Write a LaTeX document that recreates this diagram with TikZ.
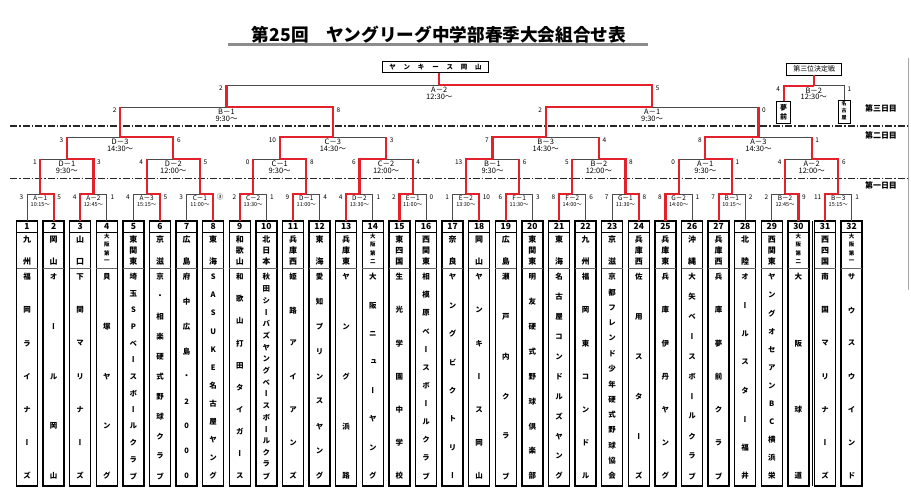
\documentclass[tikz,border=0pt]{standalone}
\usepackage{fontspec}
\setmainfont{Noto Sans CJK JP}
\newfontfamily\jpv[RawFeature=+vert]{Noto Sans CJK JP}
\usetikzlibrary{calc}
\definecolor{wred}{RGB}{228,32,42}
\definecolor{lgray}{RGB}{75,75,75}
\tikzset{
 win/.style={draw=wred,line width=2.2bp},
 lose/.style={draw=lgray,line width=0.8bp},
 tbox/.style={draw=black,line width=1.5bp,minimum width=21bp,minimum height=265bp,anchor=north,inner sep=0,outer sep=0},
 sc/.style={font=\fontsize{6.5}{7}\selectfont,inner sep=0},
 lab1/.style={font=\fontsize{6.5}{7}\selectfont,inner sep=0},
 tim1/.style={font=\fontsize{5.5}{6}\selectfont,inner sep=0},
 lab/.style={font=\fontsize{7.5}{8}\selectfont,inner sep=0},
 dayline/.style={draw=black!85,line width=1.1bp,dash pattern=on 7bp off 2bp on 1.5bp off 2bp},
 smallbox/.style={draw=black,line width=0.9bp,inner sep=0,outer sep=0},
}
\newcommand\preffont{\bfseries\fontsize{8}{8}\selectfont}
\newcommand\prefsmall{\bfseries\fontsize{5.5}{6}\selectfont}
\newcommand\namefont{\jpv\bfseries\fontsize{7.5}{8}\selectfont}
\newcommand\countlist[1]{\gdef\nch{0}\foreach \ch in {#1}{\pgfmathtruncatemacro\tmpn{\nch+1}\global\let\nch\tmpn}}
\newcommand\vstack[6]{%
  \countlist{#6}%
  \foreach \ch [count=\k] in {#6}{%
    \pgfmathsetmacro\yy{#3+(\k-1)*(#4-#3)/max(\nch-1,1)}%
    \node[font=#5,inner sep=0] (#1-\k) at (#2,\yy) {\ch};}%
}
\newcommand\team[3]{%
  \pgfmathsetmacro\tx{27+(#1-1)*26.6}%
  \node[tbox] (t#1) at (\tx,221) {};
  \draw[line width=0.6bp] ($(t#1.north west)+(0,11)$) -- ($(t#1.north east)+(0,11)$);
  \draw[line width=0.6bp,black!60] ($(t#1.north west)+(0,47)$) -- ($(t#1.north east)+(0,47)$);
  \node[font=\bfseries\fontsize{8.5}{9}\selectfont,inner sep=0] (n#1) at (\tx,226.8) {#1};
  \countlist{#2}%
  \ifnum\nch>3 \vstack{p#1}{\tx}{236.3}{261.5}{\prefsmall}{#2}\else\vstack{p#1}{\tx}{239.5}{261.5}{\preffont}{#2}\fi
  \vstack{c#1}{\tx}{277}{476}{\namefont}{#3}%
}
\newcommand\gm[9]{%
  \coordinate (#1) at (#4,#5);
  \if#6L\def\sa{win}\def\sb{lose}\else\def\sa{lose}\def\sb{win}\fi
  \draw[\sb] (#3) |- (#1);
  \draw[\sa] (#2) |- (#1);
  \ifnum#9=1 \draw[win] (#2) -- (#2 |- #1); \draw[win] (#3) -- (#3 |- #1);\fi
  \node[sc,anchor=east] (#1sl) at ($(#2 |- #1)+(-3.5,3.5)$) {#7};
  \node[sc,anchor=west] (#1sr) at ($(#3 |- #1)+(3.5,3.5)$) {#8};
}
\newcommand\glone[3]{\node[lab1] (#1l) at ($(#1)+(0,4)$) {#2}; \node[tim1] (#1t) at ($(#1)+(0,10.5)$) {#3};}
\newcommand\gla[3]{\node[lab] (#1l) at ($(#1)+(0,4.8)$) {#2}; \node[lab] (#1t) at ($(#1)+(0,11.5)$) {#3};}
\begin{document}
\begin{tikzpicture}[x=1bp,y=-1bp]
\fill[white] (0,0) rectangle (911,503);
\useasboundingbox (0,0) rectangle (911,503);
% title
\node[font=\bfseries\fontsize{17.7}{18}\selectfont,inner sep=0] (title) at (439,35) {第25回　ヤングリーグ中学部春季大会組合せ表};
\coordinate (ul1) at (228,44.5); \coordinate (ul2) at (648,44.5);
\draw[line width=2.5bp,black!45] (ul1) -- (ul2);
% day lines
\coordinate (dla) at (10,126); \coordinate (dlb) at (907,126);
\coordinate (dlc) at (10,178.5); \coordinate (dld) at (907,178.5);
\draw[dayline] (dla) -- (dlb);
\draw[dayline] (dlc) -- (dld);
\node[font=\bfseries\fontsize{8}{8}\selectfont,inner sep=0] (d3) at (881,108) {第三日目};
\node[font=\bfseries\fontsize{8}{8}\selectfont,inner sep=0] (d2) at (881,135.5) {第二日目};
\node[font=\bfseries\fontsize{8}{8}\selectfont,inner sep=0] (d1) at (881,185) {第一日目};
% right edge line
\coordinate (ea) at (908,58); \coordinate (eb) at (908,290);
\draw[black!35,line width=0.6bp] (ea) -- (eb);
% teams
\team{1}{九,州}{福,岡,ラ,イ,ナ,ー,ズ}
\team{2}{岡,山}{オ,ー,ル,岡,山}
\team{3}{山,口}{下,関,マ,リ,ナ,ー,ズ}
\team{4}{大,阪,第,一}{貝,塚,ヤ,ン,グ}
\team{5}{東,関,東}{埼,玉,S,P,ベ,ー,ス,ボ,ー,ル,ク,ラ,ブ}
\team{6}{京,滋}{京,・,相,楽,硬,式,野,球,ク,ラ,ブ}
\team{7}{広,島}{府,中,広,島,・,2,0,0,0}
\team{8}{東,海}{S,A,S,U,K,E,名,古,屋,ヤ,ン,グ}
\team{9}{和,歌,山}{和,歌,山,打,田,タ,イ,ガ,ー,ス}
\team{10}{北,日,本}{秋,田,シ,ー,バ,ズ,ヤ,ン,グ,ベ,ー,ス,ボ,ー,ル,ク,ラ,ブ}
\team{11}{兵,庫,西}{姫,路,ア,イ,ア,ン,ズ}
\team{12}{東,海}{愛,知,プ,リ,ン,ス,ヤ,ン,グ}
\team{13}{兵,庫,東}{ヤ,ン,グ,浜,路}
\team{14}{大,阪,第,二}{大,阪,ニ,ュ,ー,ヤ,ン,グ}
\team{15}{東,四,国}{生,光,学,園,中,学,校}
\team{16}{西,関,東}{相,模,原,ベ,ー,ス,ボ,ー,ル,ク,ラ,ブ}
\team{17}{奈,良}{ヤ,ン,グ,ビ,ク,ト,リ,ー}
\team{18}{岡,山}{ヤ,ン,キ,ー,ス,岡,山}
\team{19}{広,島}{瀬,戸,内,ク,ラ,ブ}
\team{20}{東,関,東}{明,友,硬,式,野,球,倶,楽,部}
\team{21}{東,海}{名,古,屋,コ,ン,ド,ル,ズ,ヤ,ン,グ}
\team{22}{九,州}{福,岡,東,コ,ン,ド,ル}
\team{23}{京,滋}{京,都,フ,レ,ン,ド,少,年,硬,式,野,球,協,会}
\team{24}{兵,庫,西}{佐,用,ス,タ,ー,ズ}
\team{25}{兵,庫,東}{兵,庫,伊,丹,ヤ,ン,グ}
\team{26}{沖,縄}{大,矢,ベ,ー,ス,ボ,ー,ル,ク,ラ,ブ}
\team{27}{兵,庫,西}{兵,庫,夢,前,ク,ラ,ブ}
\team{28}{北,陸}{オ,ー,ル,ス,タ,ー,福,井}
\team{29}{西,関,東}{ヤ,ン,グ,オ,セ,ア,ン,B,C,横,浜,栄}
\team{30}{大,阪,第,二}{大,阪,球,道}
\team{31}{西,四,国}{南,国,マ,リ,ナ,ー,ズ}
\team{32}{大,阪,第,一}{サ,ウ,ス,ウ,イ,ン,ド}
\coordinate (sepa) at (812,221); \coordinate (sepb) at (812,486);
\draw[line width=1bp] (sepa) -- (sepb);
% round 1
\gm{ra1}{t1.north}{t2.north}{40.3}{194}{R}{3}{5}{0}\glone{ra1}{A－1}{10:15～}
\gm{ra2}{t3.north}{t4.north}{93.5}{194}{L}{4}{1}{0}\glone{ra2}{A－2}{12:45～}
\gm{ra3}{t5.north}{t6.north}{146.7}{194}{R}{4}{5}{0}\glone{ra3}{A－3}{15:15～}
\gm{ra4}{t7.north}{t8.north}{199.9}{194}{R}{3}{③}{0}\glone{ra4}{C－1}{11:00～}
\gm{ra5}{t9.north}{t10.north}{253.1}{194}{L}{2}{1}{0}\glone{ra5}{C－2}{13:30～}
\gm{ra6}{t11.north}{t12.north}{306.3}{194}{L}{9}{4}{0}\glone{ra6}{D－1}{11:00～}
\gm{ra7}{t13.north}{t14.north}{359.5}{194}{L}{4}{1}{0}\glone{ra7}{D－2}{13:30～}
\gm{ra8}{t15.north}{t16.north}{412.7}{194}{L}{2}{0}{0}\glone{ra8}{E－1}{11:00～}
\gm{ra9}{t17.north}{t18.north}{465.9}{194}{R}{1}{10}{0}\glone{ra9}{E－2}{13:30～}
\gm{ra10}{t19.north}{t20.north}{519.1}{194}{L}{6}{3}{0}\glone{ra10}{F－1}{11:30～}
\gm{ra11}{t21.north}{t22.north}{572.3}{194}{L}{8}{6}{0}\glone{ra11}{F－2}{14:00～}
\gm{ra12}{t23.north}{t24.north}{625.5}{194}{R}{7}{8}{0}\glone{ra12}{G－1}{11:30～}
\gm{ra13}{t25.north}{t26.north}{678.7}{194}{L}{8}{1}{0}\glone{ra13}{G－2}{14:00～}
\gm{ra14}{t27.north}{t28.north}{731.9}{194}{L}{7}{2}{0}\glone{ra14}{B－1}{10:15～}
\gm{ra15}{t29.north}{t30.north}{785.1}{194}{R}{2}{9}{0}\glone{ra15}{B－2}{12:45～}
\gm{ra16}{t31.north}{t32.north}{838.3}{194}{L}{11}{1}{0}\glone{ra16}{B－3}{15:15～}
% round 2
\gm{rb1}{ra1}{ra2}{66.9}{159}{R}{1}{3}{1}\gla{rb1}{D－1}{9:30～}
\gm{rb2}{ra3}{ra4}{173.3}{159}{R}{4}{5}{1}\gla{rb2}{D－2}{12:00～}
\gm{rb3}{ra5}{ra6}{279.7}{159}{R}{0}{8}{1}\gla{rb3}{C－1}{9:30～}
\gm{rb4}{ra7}{ra8}{386.1}{159}{L}{6}{4}{1}\gla{rb4}{C－2}{12:00～}
\gm{rb5}{ra9}{ra10}{492.5}{159}{L}{13}{6}{1}\gla{rb5}{B－1}{9:30～}
\gm{rb6}{ra11}{ra12}{598.9}{159}{R}{5}{8}{1}\gla{rb6}{B－2}{12:00～}
\gm{rb7}{ra13}{ra14}{705.3}{159}{R}{0}{1}{1}\gla{rb7}{A－1}{9:30～}
\gm{rb8}{ra15}{ra16}{811.7}{159}{R}{4}{6}{1}\gla{rb8}{A－2}{12:00～}
% round 3
\gm{rc1}{rb1}{rb2}{120.1}{137}{R}{3}{6}{1}\gla{rc1}{D－3}{14:30～}
\gm{rc2}{rb3}{rb4}{332.9}{137}{L}{10}{3}{1}\gla{rc2}{C－3}{14:30～}
\gm{rc3}{rb5}{rb6}{545.7}{137}{L}{7}{4}{1}\gla{rc3}{B－3}{14:30～}
\gm{rc4}{rb7}{rb8}{758.5}{137}{L}{8}{1}{1}\gla{rc4}{A－3}{14:30～}
% semis
\gm{rd1}{rc1}{rc2}{226.5}{107}{R}{2}{8}{1}\gla{rd1}{B－1}{9:30～}
\gm{rd2}{rc3}{rc4}{652.1}{107}{L}{2}{0}{1}\gla{rd2}{A－1}{9:30～}
% final
\gm{rf}{rd1}{rd2}{439.3}{85}{R}{2}{5}{1}\gla{rf}{A－2}{12:30～}
\node[smallbox,minimum width=105.6bp,minimum height=11bp,font=\bfseries\fontsize{6.5}{7}\selectfont] (champ) at (435.5,67.2)
 {\makebox[14.3bp]{ヤ}\makebox[14.3bp]{ン}\makebox[14.3bp]{キ}\makebox[14.3bp]{ー}\makebox[14.3bp]{ス}\makebox[14.3bp]{岡}\makebox[14.3bp]{山}};
\draw[win] (rf) -- (rf |- champ.south);
% third place
\node[smallbox,minimum width=55bp,minimum height=11.7bp,font=\fontsize{7}{7}\selectfont] (third) at (814.2,69.2) {第三位決定戦};
\node[smallbox,minimum width=14bp,minimum height=22bp,anchor=north] (yume) at (783.6,101) {};
\node[smallbox,minimum width=12bp,minimum height=23bp,anchor=north] (nago) at (844,100) {};
\vstack{ym}{783.6}{107.5}{116.8}{\bfseries\fontsize{7}{7}\selectfont}{夢,前}
\vstack{ng}{844}{104}{117.5}{\bfseries\fontsize{5}{5}\selectfont}{名,古,屋}
\gm{r3p}{yume.north}{nago.north}{813.8}{85.7}{L}{4}{1}{0}\gla{r3p}{B－2}{12:30～}
\draw[win] (r3p) -- (r3p |- third.south);
\end{tikzpicture}
\end{document}
